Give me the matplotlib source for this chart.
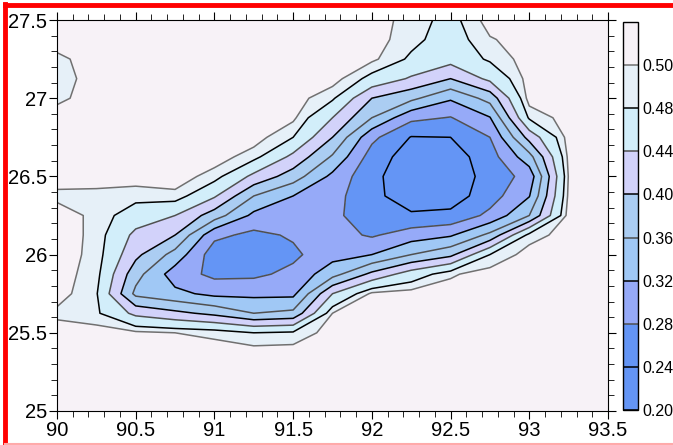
import numpy as np
import matplotlib
matplotlib.use("Agg")
import matplotlib.pyplot as plt
from matplotlib.lines import Line2D
from matplotlib.ticker import MultipleLocator, FuncFormatter

plt.rcParams['font.family'] = ['Liberation Sans', 'DejaVu Sans']

# grid (lon columns, lat rows)
lon = [90.0, 90.25, 90.5, 90.75, 91.0, 91.25, 91.5, 91.75, 92.0, 92.25, 92.5, 92.75, 93.0, 93.25, 93.5]
lat = [25.0, 25.125, 25.25, 25.375, 25.5, 25.625, 25.75, 25.875, 26.0, 26.125, 26.25,
       26.375, 26.5, 26.625, 26.75, 26.875, 27.0, 27.125, 27.25, 27.375, 27.5]

# one list per longitude column, values from south to north
z_9000 = [.51, .51, .51, .51, .51, .495, .51, .51, .51, .51, .51, .495, .51, .51, .51, .51, .495, .49, .495, .51, .51]
z_9025 = [.51, .51, .51, .51, .51, .485, .483, .49, .494, .495, .495, .497, .505, .51, .51, .51, .51, .51, .51, .51, .51]
z_9050 = [.51, .51, .51, .51, .505, .43, .35, .375, .41, .43, .462, .49, .51, .51, .51, .51, .51, .51, .51, .51, .51]
z_9075 = [.51, .51, .51, .51, .50, .41, .33, .30, .345, .40, .44, .495, .51, .51, .51, .51, .51, .51, .51, .51, .51]
z_9100 = [.51, .51, .51, .51, .495, .39, .31, .27, .258, .29, .38, .445, .492, .51, .51, .51, .51, .51, .51, .51, .51]
z_9125 = [.51, .51, .51, .51, .48, .36, .31, .272, .25, .27, .31, .36, .43, .49, .51, .51, .51, .51, .51, .51, .51]
z_9150 = [.51, .51, .51, .51, .485, .37, .31, .29, .272, .285, .30, .32, .38, .43, .48, .505, .51, .51, .51, .51, .51]
z_9175 = [.51, .51, .51, .51, .51, .50, .44, .345, .305, .295, .29, .295, .31, .355, .40, .44, .485, .51, .51, .51, .51]
z_9200 = [.51, .51, .51, .51, .51, .51, .505, .41, .32, .275, .255, .25, .25, .262, .29, .36, .40, .47, .505, .51, .51]
z_9225 = [.51, .51, .51, .51, .51, .51, .51, .46, .36, .30, .245, .22, .215, .22, .238, .29, .37, .435, .475, .488, .492]
z_9250 = [.51, .51, .51, .51, .51, .51, .51, .497, .39, .315, .25, .22, .215, .22, .24, .278, .325, .40, .455, .465, .47]
z_9275 = [.51, .51, .51, .51, .51, .51, .51, .51, .48, .37, .29, .262, .255, .262, .28, .318, .375, .45, .485, .498, .51]
z_9300 = [.51, .51, .51, .51, .51, .51, .51, .51, .51, .49, .36, .318, .295, .345, .415, .485, .51, .51, .51, .51, .51]
z_9325 = [.51, .51, .51, .51, .51, .51, .51, .51, .51, .51, .51, .505, .502, .506, .51, .51, .51, .51, .51, .51, .51]
z_9350 = [.51, .51, .51, .51, .51, .51, .51, .51, .51, .51, .51, .51, .51, .51, .51, .51, .51, .51, .51, .51, .51]

levels = [0.20, 0.24, 0.28, 0.32, 0.36, 0.40, 0.44, 0.48, 0.50, 0.52]
fill_colors = ['#6495f5', '#6495f5', '#96aaf8', '#a0c8f5', '#abcdf2',
               '#d2d2fa', '#d2eefa', '#e6f0f8', '#f7f2f7']
line_colors = ['k', 'k', '#505050', 'k', '#505050', 'k', '#505050', 'k', '#707070']

Z = np.column_stack([z_9000, z_9025, z_9050, z_9075, z_9100, z_9125, z_9150, z_9175,
                     z_9200, z_9225, z_9250, z_9275, z_9300, z_9325, z_9350])

fig = plt.figure(figsize=(6.73, 4.45), dpi=100)
ax = fig.add_axes([57 / 673, 1 - 411 / 445, 551 / 673, 391 / 445])
cax = fig.add_axes([623 / 673, 1 - 410 / 445, 15 / 673, 388 / 445])

cf = ax.contourf(lon, lat, Z, levels=levels, colors=fill_colors)
cs = ax.contour(lon, lat, Z, levels=levels[:-1], colors=line_colors, linewidths=1.1)

ax.set_xlim(90, 93.5)
ax.set_ylim(25, 27.5)
ax.xaxis.set_major_locator(MultipleLocator(0.5))
ax.xaxis.set_minor_locator(MultipleLocator(0.1))
ax.yaxis.set_major_locator(MultipleLocator(0.5))
ax.yaxis.set_minor_locator(MultipleLocator(0.1))
ax.xaxis.set_major_formatter(FuncFormatter(lambda v, p: f"{v:g}"))
ax.yaxis.set_major_formatter(FuncFormatter(lambda v, p: f"{v:g}"))
ax.tick_params(which='both', direction='out', top=True, right=True, labelsize=14.5, pad=1)
ax.tick_params(which='major', length=6)
ax.tick_params(which='minor', length=4)

cbar = fig.colorbar(cf, cax=cax, ticks=levels[:-1])
cbar.add_lines(cs)
cbar.ax.set_yticklabels([f"{v:.2f}" for v in levels[:-1]])
cbar.ax.tick_params(length=0, labelsize=11.5, pad=3)
cbar.outline.set_linewidth(1.0)

# red frame round the picture
fig.add_artist(Line2D([5 / 673, 5 / 673], [0, 1 - 4 / 445], color='red', lw=3.5))
fig.add_artist(Line2D([5 / 673, 1], [1 - 5 / 445, 1 - 5 / 445], color='red', lw=3.5))
fig.add_artist(Line2D([5 / 673, 1], [1.5 / 445, 1.5 / 445], color='#ffaaaa', lw=1.5))

fig.savefig('out.png', dpi=100, facecolor='white')
